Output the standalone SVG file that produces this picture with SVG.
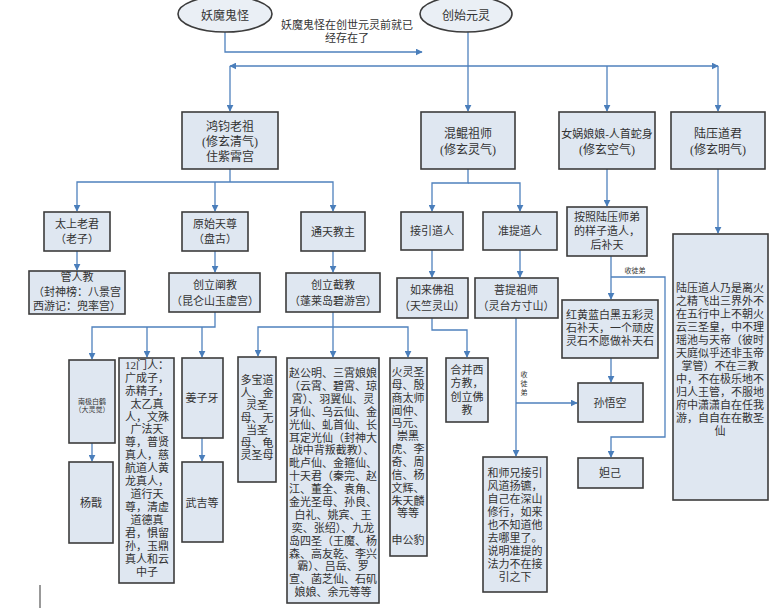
<svg xmlns="http://www.w3.org/2000/svg" width="775" height="608" viewBox="0 0 775 608">
<defs>
<style>
.box{fill:#dfe7f1;stroke:#3c3c3c;stroke-width:1.6}
.ell{fill:#eaeff5;stroke:#3c3c3c;stroke-width:1.6}
.c{fill:none;stroke:#4f81bd;stroke-width:1.3}
.a{marker-end:url(#arr)}
text{font-family:"Liberation Serif","Noto Sans CJK SC","Noto Sans CJK TC",serif;font-size:11px;fill:#333;text-anchor:middle}
.t12{font-size:12px}
.t7{font-size:7px}
</style>
<marker id="arr" viewBox="0 0 10 10" refX="9" refY="5" markerWidth="7" markerHeight="7" markerUnits="userSpaceOnUse" orient="auto"><path d="M0,0 L10,5 L0,10 z" fill="#4a7ebb"/></marker>
</defs>
<rect width="775" height="608" fill="#ffffff"/>

<g id="connectors">
<path class="c a" d="M225,32 V52 H422"/>
<path class="c a" d="M468,32 V111"/>
<path class="c a" d="M468,66 H230"/>
<path class="c a" d="M468,66 H718"/>
<path class="c a" d="M230,66 V111"/>
<path class="c a" d="M607,66 V111"/>
<path class="c a" d="M718,66 V111"/>
<path class="c" d="M230,169 V182"/>
<path class="c a" d="M230,182 H77 V211"/>
<path class="c a" d="M230,182 H333 V211"/>
<path class="c a" d="M215,182 V211"/>
<path class="c a" d="M77,251 V270"/>
<path class="c a" d="M215,251 V272"/>
<path class="c a" d="M333,251 V272"/>
<path class="c a" d="M215,312 V327 H92 V359"/>
<path class="c a" d="M147,327 V357"/>
<path class="c a" d="M202,327 V357"/>
<path class="c a" d="M92,443 V461"/>
<path class="c a" d="M202,438 V461"/>
<path class="c a" d="M333,312 V357"/>
<path class="c a" d="M333,327 H258 V356"/>
<path class="c a" d="M333,327 H408 V357"/>
<path class="c a" d="M468,169 V183 H432 V211"/>
<path class="c a" d="M468,183 H520 V211"/>
<path class="c a" d="M432,250 V277"/>
<path class="c a" d="M520,250 V277"/>
<path class="c a" d="M432,318 V330 H467 V357"/>
<path class="c a" d="M516,318 V456"/>
<path class="c a" d="M516,403 H577"/>
<path class="c a" d="M607,169 V206"/>
<path class="c a" d="M611,256 V299"/>
<path class="c a" d="M611,358 V382"/>
<path class="c a" d="M611,277 H665 V437 H611 V457"/>
<path class="c a" d="M718,169 V233"/>
<path d="M40,585 V608" fill="none" stroke="#555" stroke-width="1.2"/>
</g>

<text x="347" y="29">妖魔鬼怪在创世元灵前就已</text>
<text x="347" y="42">经存在了</text>
<text class="t7" x="635" y="273">收徒弟</text>
<text class="t7" x="524" y="377">收</text>
<text class="t7" x="524" y="386">徒</text>
<text class="t7" x="524" y="395">弟</text>

<g id="n-yaomo"><ellipse class="ell" cx="225" cy="14" rx="47" ry="18"/><text class="t12" x="225" y="20">妖魔鬼怪</text></g>
<g id="n-chuangshi"><ellipse class="ell" cx="466" cy="14" rx="46" ry="18"/><text class="t12" x="466" y="20">创始元灵</text></g>

<g id="n-hongjun"><rect class="box" x="182" y="112" width="96" height="57"/><text class="t12" x="230" y="131">鸿钧老祖</text><text class="t12" x="230" y="146">(修玄清气)</text><text class="t12" x="230" y="161">住紫霄宫</text></g>
<g id="n-hunkun"><rect class="box" x="421" y="112" width="94" height="57"/><text class="t12" x="468" y="138">混鲲祖师</text><text class="t12" x="468" y="154">(修玄灵气)</text></g>
<g id="n-nvwa"><rect class="box" x="559" y="112" width="96" height="57"/><text x="607" y="138">女娲娘娘-人首蛇身</text><text class="t12" x="607" y="154">(修玄空气)</text></g>
<g id="n-luya"><rect class="box" x="671" y="112" width="94" height="57"/><text class="t12" x="718" y="138">陆压道君</text><text class="t12" x="718" y="154">(修玄明气)</text></g>

<g id="n-taishang"><rect class="box" x="44" y="212" width="66" height="39"/><text x="77" y="228">太上老君</text><text x="77" y="243">（老子）</text></g>
<g id="n-yuanshi"><rect class="box" x="182" y="212" width="66" height="39"/><text x="215" y="228">原始天尊</text><text x="215" y="243">（盘古）</text></g>
<g id="n-tongtian"><rect class="box" x="301" y="212" width="64" height="39"/><text x="333" y="236">通天教主</text></g>
<g id="n-renjiao"><rect class="box" x="29" y="271" width="96" height="43"/><text x="77" y="281">管人教</text><text x="77" y="296">（封神榜：八景宫</text><text x="77" y="310">西游记：兜率宫）</text></g>
<g id="n-chanjiao"><rect class="box" x="169" y="273" width="91" height="39"/><text x="215" y="289">创立阐教</text><text x="215" y="305">（昆仑山玉虚宫）</text></g>
<g id="n-jiejiao"><rect class="box" x="286" y="273" width="94" height="39"/><text x="333" y="289">创立截教</text><text x="333" y="305">（蓬莱岛碧游宫）</text></g>

<g id="n-jieyin"><rect class="box" x="401" y="212" width="62" height="38"/><text x="432" y="235">接引道人</text></g>
<g id="n-zhunti"><rect class="box" x="483" y="212" width="74" height="38"/><text x="520" y="235">准提道人</text></g>
<g id="n-rulai"><rect class="box" x="397" y="278" width="71" height="40"/><text x="432" y="294">如来佛祖</text><text x="432" y="310">（天竺灵山）</text></g>
<g id="n-puti"><rect class="box" x="475" y="278" width="83" height="40"/><text x="516" y="294">菩提祖师</text><text x="516" y="310">（灵台方寸山）</text></g>

<g id="n-anzhao"><rect class="box" x="567" y="207" width="80" height="49"/><text x="607" y="221">按照陆压师弟</text><text x="607" y="235">的样子造人，</text><text x="607" y="249">后补天</text></g>
<g id="n-wucai"><rect class="box" x="562" y="300" width="96" height="58"/><text x="610" y="319">红黄蓝白黑五彩灵</text><text x="610" y="332">石补天，一个顽皮</text><text x="610" y="345">灵石不愿做补天石</text></g>
<g id="n-sunwukong"><rect class="box" x="578" y="383" width="65" height="39"/><text x="610" y="407">孙悟空</text></g>
<g id="n-daji"><rect class="box" x="578" y="458" width="65" height="30"/><text x="610" y="477">妲己</text></g>

<g id="n-luyadesc"><rect class="box" x="673" y="234" width="95" height="266"/>
<text x="720" y="292">陆压道人乃是离火</text><text x="720" y="305">之精飞出三界外不</text><text x="720" y="318">在五行中上不朝火</text><text x="720" y="331">云三圣皇，中不理</text><text x="720" y="344">瑶池与天帝（彼时</text><text x="720" y="357">天庭似乎还非玉帝</text><text x="720" y="370">掌管）不在三教</text><text x="720" y="383">中，不在极乐地不</text><text x="720" y="396">归人王管，不服地</text><text x="720" y="409">府中潇潇自在任我</text><text x="720" y="422">游，自自在在散圣</text><text x="720" y="435">仙</text></g>

<g id="n-nanji"><rect class="box" x="69" y="360" width="46" height="83"/><text class="t7" x="92" y="404">南极白鹤</text><text class="t7" x="92" y="412">（大灵觉）</text></g>
<g id="n-yangjian"><rect class="box" x="69" y="462" width="44" height="81"/><text x="91" y="507">杨戬</text></g>
<g id="n-menren"><rect class="box" x="119" y="358" width="55" height="225"/>
<text x="147" y="369">12门人：</text><text x="147" y="382">广成子，</text><text x="147" y="395">赤精子，</text><text x="147" y="408">太乙真</text><text x="147" y="421">人，文殊</text><text x="147" y="433">广法天</text><text x="147" y="446">尊，普贤</text><text x="147" y="459">真人，慈</text><text x="147" y="472">航道人黄</text><text x="147" y="485">龙真人，</text><text x="147" y="498">道行天</text><text x="147" y="511">尊，清虚</text><text x="147" y="524">道德真</text><text x="147" y="537">君，惧留</text><text x="147" y="550">孙，玉鼎</text><text x="147" y="563">真人和云</text><text x="147" y="576">中子</text></g>
<g id="n-jiangziya"><rect class="box" x="182" y="358" width="41" height="80"/><text x="202" y="402">姜子牙</text></g>
<g id="n-wuji"><rect class="box" x="182" y="462" width="41" height="80"/><text x="202" y="507">武吉等</text></g>

<g id="n-duobao"><rect class="box" x="238" y="357" width="38" height="125"/>
<text x="257" y="384">多宝道</text><text x="257" y="397">人、金</text><text x="257" y="409">灵圣</text><text x="257" y="422">母、无</text><text x="257" y="434">当圣</text><text x="257" y="447">母、龟</text><text x="257" y="459">灵圣母</text></g>
<g id="n-zhaogongming"><rect class="box" x="287" y="358" width="92" height="245"/>
<text x="333" y="377">赵公明、三霄娘娘</text><text x="333" y="390">（云霄、碧霄、琼</text><text x="333" y="403">霄）、羽翼仙、灵</text><text x="333" y="416">牙仙、乌云仙、金</text><text x="333" y="429">光仙、虬首仙、长</text><text x="333" y="442">耳定光仙（封神大</text><text x="333" y="454">战中背叛截教）、</text><text x="333" y="467">毗卢仙、金箍仙、</text><text x="333" y="480">十天君（秦完、赵</text><text x="333" y="493">江、董全、袁角、</text><text x="333" y="506">金光圣母、孙良、</text><text x="333" y="519">白礼、姚宾、王</text><text x="333" y="532">奕、张绍）、九龙</text><text x="333" y="545">岛四圣（王魔、杨</text><text x="333" y="558">森、高友乾、李兴</text><text x="333" y="570">霸）、吕岳、罗</text><text x="333" y="583">宣、菡芝仙、石矶</text><text x="333" y="596">娘娘、余元等等</text></g>
<g id="n-huoling"><rect class="box" x="390" y="358" width="37" height="198"/>
<text x="408" y="376">火灵圣</text><text x="408" y="389">母、殷</text><text x="408" y="402">商太师</text><text x="408" y="415">闻仲、</text><text x="408" y="427">马元、</text><text x="408" y="440">崇黑</text><text x="408" y="453">虎、李</text><text x="408" y="466">奇、周</text><text x="408" y="479">信、杨</text><text x="408" y="492">文辉、</text><text x="408" y="505">朱天麟</text><text x="408" y="517">等等</text><text x="408" y="544">申公豹</text></g>
<g id="n-hebing"><rect class="box" x="446" y="358" width="42" height="64"/>
<text x="467" y="374">合并西</text><text x="467" y="387">方教，</text><text x="467" y="401">创立佛</text><text x="467" y="414">教</text></g>
<g id="n-heshixiong"><rect class="box" x="483" y="457" width="64" height="135"/>
<text x="515" y="477">和师兄接引</text><text x="515" y="490">风道扬镳，</text><text x="515" y="503">自己在深山</text><text x="515" y="516">修行，如来</text><text x="515" y="529">也不知道他</text><text x="515" y="542">去哪里了。</text><text x="515" y="555">说明准提的</text><text x="515" y="568">法力不在接</text><text x="515" y="581">引之下</text></g>
</svg>
